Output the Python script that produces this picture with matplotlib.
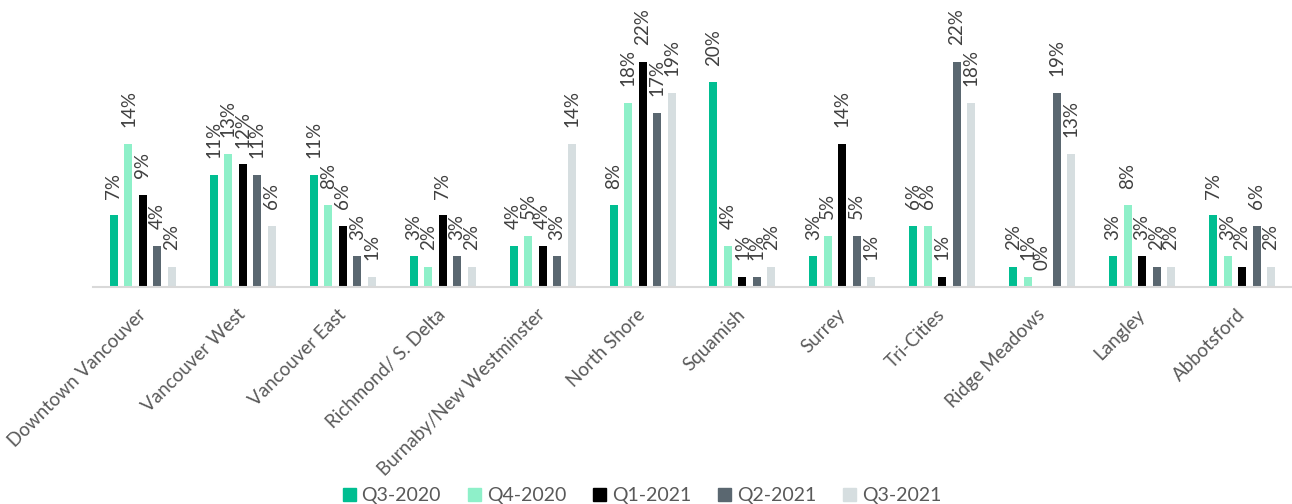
import matplotlib
matplotlib.use("Agg")
import matplotlib.pyplot as plt
from matplotlib.patches import Patch
import numpy as np

categories = ["Downtown Vancouver", "Vancouver West", "Vancouver East", "Richmond/ S. Delta",
              "Burnaby/New Westminster", "North Shore", "Squamish", "Surrey", "Tri-Cities",
              "Ridge Meadows", "Langley", "Abbotsford"]
series_names = ["Q3-2020", "Q4-2020", "Q1-2021", "Q2-2021", "Q3-2021"]
q3_2020 = [7, 11, 11, 3, 4, 8, 20, 3, 6, 2, 3, 7]
q4_2020 = [14, 13, 8, 2, 5, 18, 4, 5, 6, 1, 8, 3]
q1_2021 = [9, 12, 6, 7, 4, 22, 1, 14, 1, 0, 3, 2]
q2_2021 = [4, 11, 3, 3, 3, 17, 1, 5, 22, 19, 2, 6]
q3_2021 = [2, 6, 1, 2, 14, 19, 2, 1, 18, 13, 2, 2]
series = [q3_2020, q4_2020, q1_2021, q2_2021, q3_2021]
colors = ["#00BE91", "#8EF0C9", "#000000", "#5A6770", "#D6DEE0"]

plt.rcParams['font.family'] = ['Lato', 'DejaVu Sans']

fig = plt.figure(figsize=(12.92, 5.04), dpi=100)
ax = fig.add_axes([93/1292, (504-287)/504, 1199/1292, (287-62)/504])

x = np.arange(len(categories))
step = 0.145
width = 0.08
for i, (vals, col) in enumerate(zip(series, colors)):
    xs = x + (i - 2) * step
    ax.bar(xs, vals, width=width, color=col, zorder=2)
    for xi, v in zip(xs, vals):
        ax.annotate(f"{v}%", (xi, v), xytext=(0, 12), textcoords="offset points",
                    rotation=90, ha="center", va="bottom", fontsize=13.5,
                    color="#404040", annotation_clip=False)

ax.set_xlim(-0.5, len(categories) - 0.5)
ax.set_ylim(0, 22)
ax.set_yticks([])
ax.set_xticks(x)
ax.set_xticklabels(categories, rotation=45, ha="right", va="center",
                   rotation_mode="anchor", fontsize=13.5, color="#595959")
ax.tick_params(axis="x", length=0, pad=18)
for s in ["top", "left", "right"]:
    ax.spines[s].set_visible(False)
ax.spines["bottom"].set_color("#D9D9D9")
ax.spines["bottom"].set_linewidth(1.5)

handles = [Patch(facecolor=c, edgecolor=c, label=n) for c, n in zip(colors, series_names)]
fig.legend(handles=handles, loc="lower center", bbox_to_anchor=(0.497, -0.035), ncol=5,
           frameon=False, handlelength=0.65, handleheight=0.65,
           handletextpad=0.3, columnspacing=1.4, labelcolor="#595959",
           prop={"size": 14})

fig.savefig("out.png", dpi=100)
